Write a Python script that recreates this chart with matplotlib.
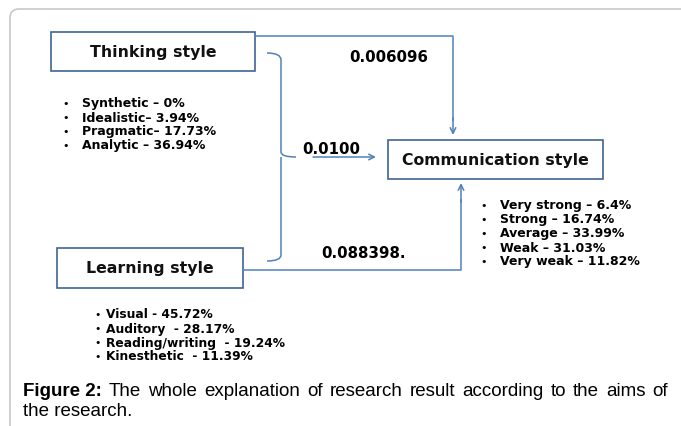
import matplotlib.pyplot as plt
from matplotlib.patches import FancyBboxPatch, Rectangle, PathPatch
from matplotlib.path import Path

plt.rcParams['font.family'] = ['DejaVu Sans']

# diagram content
box_names = ['Thinking style', 'Learning style', 'Communication style']
thinking_items = ['Synthetic \u2013 0%', 'Idealistic\u2013 3.94%', 'Pragmatic\u2013 17.73%', 'Analytic \u2013 36.94%']
learning_items = ['Visual - 45.72%', 'Auditory  - 28.17%', 'Reading/writing  - 19.24%', 'Kinesthetic  - 11.39%']
comm_items = ['Very strong \u2013 6.4%', 'Strong \u2013 16.74%', 'Average \u2013 33.99%', 'Weak \u2013 31.03%', 'Very weak \u2013 11.82%']
coef_labels = ['0.006096', '0.0100', '0.088398.']
caption_bold = 'Figure 2:'
caption_line1 = 'The whole explanation of research result according to the aims of'
caption_line2 = 'the research.'

line_col = '#4f81bd'
edge_col = '#3f6494'
cap_font = ['Liberation Sans', 'DejaVu Sans']

fig = plt.figure(figsize=(6.81, 4.26), dpi=100)
ax = fig.add_axes([0, 0, 1, 1])
ax.set_xlim(0, 681)
ax.set_ylim(426, 0)
ax.axis('off')

# outer frame
ax.add_patch(FancyBboxPatch((10, 9), 700, 440, boxstyle='round,pad=0,rounding_size=9',
                            fc='white', ec='#c8c8c8', lw=1.2))

# boxes: (x0, y0, x1, y1)
boxes = [(51, 32, 255, 71), (57, 248, 243, 288), (388, 140, 603, 179)]
for (x0, y0, x1, y1), name in zip(boxes, box_names):
    ax.add_patch(Rectangle((x0, y0), x1 - x0, y1 - y0, fc='white', ec=edge_col, lw=1.2))
    ax.text((x0 + x1) / 2, (y0 + y1) / 2 + 1, name, ha='center', va='center',
            fontsize=11.3, fontweight='bold', color='#111111')

arrow = dict(arrowstyle='->', color=line_col, lw=1.1, shrinkA=0, shrinkB=0,
             mutation_scale=10)

# thinking -> communication
ax.plot([255, 453, 453], [36, 36, 120], color=line_col, lw=1.1)
ax.annotate('', xy=(453, 135), xytext=(453, 118), arrowprops=arrow)

# learning -> communication
ax.plot([243, 461, 461], [270, 270, 200], color=line_col, lw=1.1)
ax.annotate('', xy=(461, 183), xytext=(461, 202), arrowprops=arrow)

# bracket joining both predictors
verts = [(267, 53), (281, 53), (281, 60),
         (281, 152), (281, 157), (296, 157),
         (281, 157), (281, 162),
         (281, 255), (281, 261), (267, 261)]
codes = [Path.MOVETO, Path.CURVE3, Path.CURVE3,
         Path.LINETO, Path.CURVE3, Path.CURVE3,
         Path.MOVETO, Path.LINETO,
         Path.LINETO, Path.CURVE3, Path.CURVE3]
ax.add_patch(PathPatch(Path(verts, codes), fc='none', ec=line_col, lw=1.1))

# joint arrow
ax.annotate('', xy=(376, 157), xytext=(313, 157), arrowprops=arrow)

# coefficient labels
ax.text(389, 57, coef_labels[0], ha='center', va='center', fontsize=10.8, fontweight='bold')
ax.text(331, 149, coef_labels[1], ha='center', va='center', fontsize=10.8, fontweight='bold')
ax.text(363, 253, coef_labels[2], ha='center', va='center', fontsize=10.8, fontweight='bold')

# bullet lists
def bullet_list(items, xb, xt, y0, dy, fs):
    for i, s in enumerate(items):
        y = y0 + i * dy
        ax.text(xb, y, '\u2022', ha='center', va='center', fontsize=fs - 1)
        ax.text(xt, y, s, ha='left', va='center', fontsize=fs, fontweight='bold')

bullet_list(thinking_items, 66, 82, 104, 14, 9)
bullet_list(comm_items, 484, 500, 206, 14, 9)
bullet_list(learning_items, 98, 106, 315, 14, 8.8)

# caption, first line justified between x=23 and x=668
renderer = fig.canvas.get_renderer()
words = [(caption_bold, 'bold')] + [(w, 'normal') for w in caption_line1.split()]
objs = []
for w, fw in words:
    objs.append(ax.text(0, 391, w, ha='left', va='center', fontsize=13.5, fontweight=fw,
                        family=cap_font))
inv = ax.transData.inverted()
widths = []
for o in objs:
    bb = o.get_window_extent(renderer)
    x0 = inv.transform((bb.x0, bb.y0))[0]
    x1 = inv.transform((bb.x1, bb.y0))[0]
    widths.append(x1 - x0)
gap = (668 - 23 - sum(widths)) / (len(objs) - 1)
x = 23
for o, wd in zip(objs, widths):
    o.set_x(x)
    x += wd + gap
ax.text(23, 412, caption_line2, ha='left', va='center', fontsize=13.5, family=cap_font)

fig.savefig('out.png', dpi=100)
